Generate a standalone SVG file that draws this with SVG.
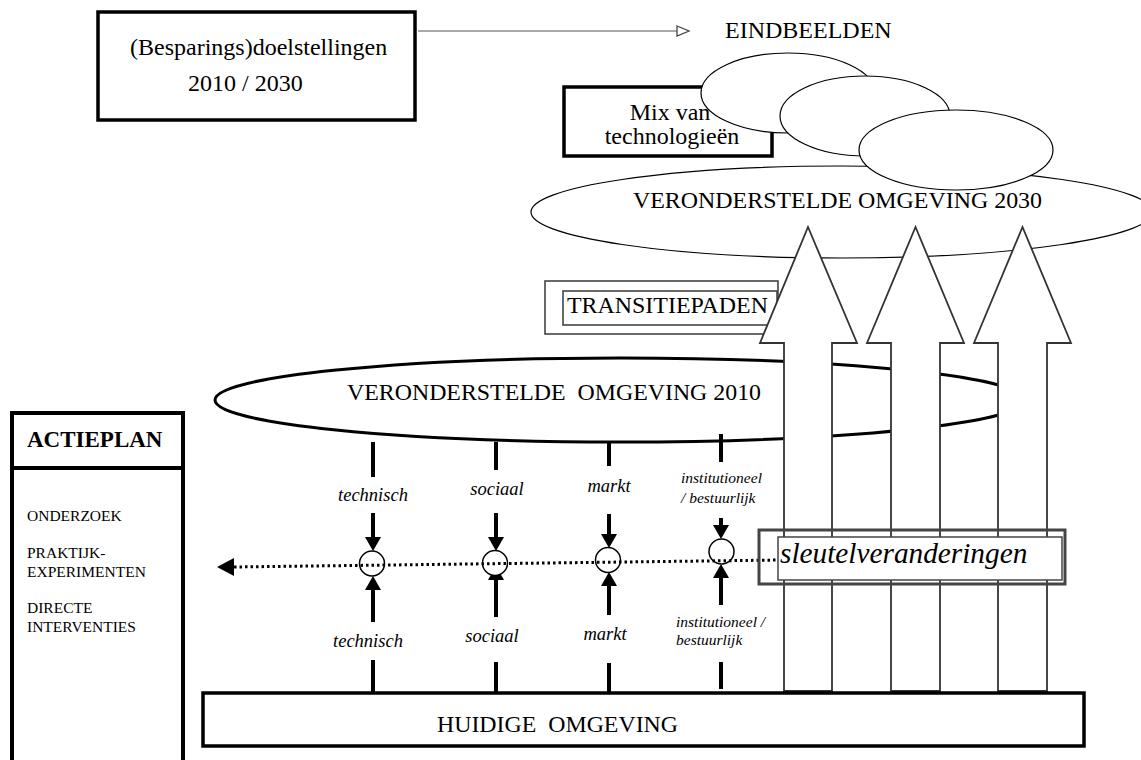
<svg xmlns="http://www.w3.org/2000/svg" xmlns:xlink="http://www.w3.org/1999/xlink" width="1141" height="760" viewBox="0 0 1141 760">
<style>
  .serif { font-family: "Liberation Serif", "Times New Roman", serif; fill: #000; }
  .big { font-size: 24px; }
  .ell { font-size: 23.3px; }
  .lab { font-size: 18.5px; font-style: italic; }
  .labs { font-size: 15.5px; font-style: italic; }
  .list { font-size: 15.5px; }
  .thickbox { fill: #fff; stroke: #000; stroke-width: 3.5; }
  .thin { fill: #fff; stroke: #000; stroke-width: 1.2; }
  .gray { fill: none; stroke: #444; stroke-width: 1.6; }
  .bigarrow { fill: #fff; stroke: #333; stroke-width: 1.8; stroke-linejoin: miter; }
  .dash { stroke: #000; stroke-width: 4; fill: none; }
  .circ { fill: #fff; stroke: #000; stroke-width: 1.5; }
  .dots { stroke: #000; stroke-width: 3; stroke-dasharray: 2.5 3; fill: none; }
</style>
<defs>
  <path id="ahDown" d="M-8,-14 L8,-14 L0,0 Z" fill="#000"/>
  <path id="ahUp" d="M-8,14 L8,14 L0,0 Z" fill="#000"/>
</defs>

<!-- Top goals box -->
<g id="doelstellingen">
  <rect x="98" y="12" width="317" height="108" class="thickbox"/>
  <text x="130" y="55" class="serif big">(Besparings)doelstellingen</text>
  <text x="188" y="91" class="serif big">2010 / 2030</text>
</g>

<g id="eindbeelden">
  <text x="725" y="38" class="serif big">EINDBEELDEN</text>
</g>

<g id="mix">
  <rect x="564" y="87" width="208" height="69" class="thickbox"/>
  <text x="670" y="120" text-anchor="middle" class="serif big">Mix van</text>
  <text x="672" y="144" text-anchor="middle" class="serif big">technologieën</text>
</g>

<g id="beeld1"><ellipse cx="788" cy="93" rx="87" ry="40" class="thin"/></g>
<g id="beeld2"><ellipse cx="865" cy="116" rx="85" ry="40" class="thin"/></g>

<g id="omgeving2030">
  <ellipse cx="842" cy="212" rx="311" ry="46" class="thin"/>
  <text x="633" y="208" class="serif ell" textLength="409" lengthAdjust="spacingAndGlyphs">VERONDERSTELDE OMGEVING 2030</text>
</g>

<g id="beeld3"><ellipse cx="956" cy="150" rx="97" ry="40" class="thin"/></g>

<g id="transitiepaden">
  <rect x="545" y="281" width="233" height="53" class="gray" fill="#fff"/>
  <rect x="563" y="291" width="214" height="34" class="gray"/>
  <text x="567" y="313" class="serif big" textLength="201" lengthAdjust="spacingAndGlyphs">TRANSITIEPADEN</text>
</g>

<g id="omgeving2010">
  <ellipse cx="620" cy="400" rx="405" ry="42" fill="#fff" stroke="#000" stroke-width="3"/>
  <text x="347" y="400" class="serif ell" style="white-space:pre" textLength="414" lengthAdjust="spacingAndGlyphs">VERONDERSTELDE  OMGEVING 2010</text>
</g>

<!-- Connectors -->
<g id="connectors">
  <line x1="418" y1="31" x2="677" y2="31" stroke="#555" stroke-width="1.2"/>
  <path d="M677,26 L689,31 L677,36 Z" fill="#fff" stroke="#444" stroke-width="1.3"/>

  <!-- technisch -->
  <line x1="373" y1="442" x2="373" y2="477" class="dash"/>
  <line x1="373" y1="513" x2="373" y2="538" class="dash"/>
  <use xlink:href="#ahDown" href="#ahDown" transform="translate(373,551)"/>
  <use xlink:href="#ahUp" href="#ahUp" transform="translate(373,576)"/>
  <line x1="373" y1="589" x2="373" y2="622" class="dash"/>
  <line x1="373" y1="660" x2="373" y2="692" class="dash"/>

  <!-- sociaal -->
  <line x1="496" y1="442" x2="496" y2="470" class="dash"/>
  <line x1="496" y1="513" x2="496" y2="538" class="dash"/>
  <use xlink:href="#ahDown" href="#ahDown" transform="translate(496,551)"/>
  <use xlink:href="#ahUp" href="#ahUp" transform="translate(496,566)"/>
  <line x1="496" y1="579" x2="496" y2="617" class="dash"/>
  <line x1="496" y1="662" x2="496" y2="692" class="dash"/>

  <!-- markt -->
  <line x1="609" y1="443" x2="609" y2="466" class="dash"/>
  <line x1="609" y1="514" x2="609" y2="535" class="dash"/>
  <use xlink:href="#ahDown" href="#ahDown" transform="translate(609,548)"/>
  <use xlink:href="#ahUp" href="#ahUp" transform="translate(609,572)"/>
  <line x1="609" y1="585" x2="609" y2="615" class="dash"/>
  <line x1="609" y1="663" x2="609" y2="692" class="dash"/>

  <!-- institutioneel -->
  <line x1="721" y1="434" x2="721" y2="462" class="dash"/>
  <line x1="721" y1="518" x2="721" y2="526" class="dash"/>
  <use xlink:href="#ahDown" href="#ahDown" transform="translate(721,539)"/>
  <use xlink:href="#ahUp" href="#ahUp" transform="translate(721,564)"/>
  <line x1="721" y1="577" x2="721" y2="605" class="dash"/>
  <line x1="721" y1="662" x2="721" y2="689" class="dash"/>
</g>

<g id="knooppunten">
  <ellipse cx="372" cy="563.5" rx="12.5" ry="12.5" class="circ"/>
  <ellipse cx="495" cy="563" rx="12.5" ry="12.5" class="circ"/>
  <ellipse cx="608" cy="560" rx="12.5" ry="12.5" class="circ"/>
  <ellipse cx="721.5" cy="551.5" rx="12.5" ry="12.5" class="circ"/>
</g>

<g id="actielijn">
  <line x1="781" y1="560" x2="234" y2="567" class="dots"/>
  <path d="M217,567 L234,558 L234,576 Z" fill="#000"/>
</g>

<g id="labels">
  <text x="373" y="501" text-anchor="middle" class="serif lab">technisch</text>
  <text x="497" y="495" text-anchor="middle" class="serif lab">sociaal</text>
  <text x="609" y="492" text-anchor="middle" class="serif lab">markt</text>
  <text x="681" y="483" class="serif labs">institutioneel</text>
  <text x="681" y="503" class="serif labs">/ bestuurlijk</text>

  <text x="368" y="647" text-anchor="middle" class="serif lab">technisch</text>
  <text x="492" y="642" text-anchor="middle" class="serif lab">sociaal</text>
  <text x="605" y="640" text-anchor="middle" class="serif lab">markt</text>
  <text x="676" y="627" class="serif labs">institutioneel /</text>
  <text x="676" y="645" class="serif labs">bestuurlijk</text>
</g>

<g id="transitiepijlen">
  <polygon points="808,227 857,343 832,343 832,691 784,691 784,343 760,343" class="bigarrow"/>
  <polygon points="915.5,227 964,343 940,343 940,691 891,691 891,343 867,343" class="bigarrow"/>
  <polygon points="1022.5,227 1071,343 1047,343 1047,691 998,691 998,343 974,343" class="bigarrow"/>
</g>

<g id="sleutelveranderingen">
  <rect x="759" y="530" width="306" height="54" fill="none" stroke="#444" stroke-width="3"/>
  <rect x="778" y="537" width="284" height="43" fill="#fff" stroke="#444" stroke-width="1.5"/>
  <text x="780" y="563" class="serif" font-size="29.3" font-style="italic">sleutelveranderingen</text>
</g>

<g id="huidige">
  <rect x="203" y="693" width="881" height="53" class="thickbox" stroke-width="3"/>
  <text x="437" y="732" class="serif big" style="white-space:pre" textLength="241" lengthAdjust="spacingAndGlyphs">HUIDIGE  OMGEVING</text>
</g>

<g id="actieplan">
  <rect x="12" y="413" width="171" height="380" fill="#fff" stroke="#000" stroke-width="4"/>
  <line x1="12" y1="468" x2="183" y2="468" stroke="#000" stroke-width="4"/>
  <text x="27" y="447" class="serif" font-size="23" font-weight="bold">ACTIEPLAN</text>
  <text x="27" y="521" class="serif list">ONDERZOEK</text>
  <text x="27" y="558" class="serif list">PRAKTIJK-</text>
  <text x="27" y="577" class="serif list">EXPERIMENTEN</text>
  <text x="27" y="613" class="serif list">DIRECTE</text>
  <text x="27" y="632" class="serif list">INTERVENTIES</text>
</g>
</svg>
